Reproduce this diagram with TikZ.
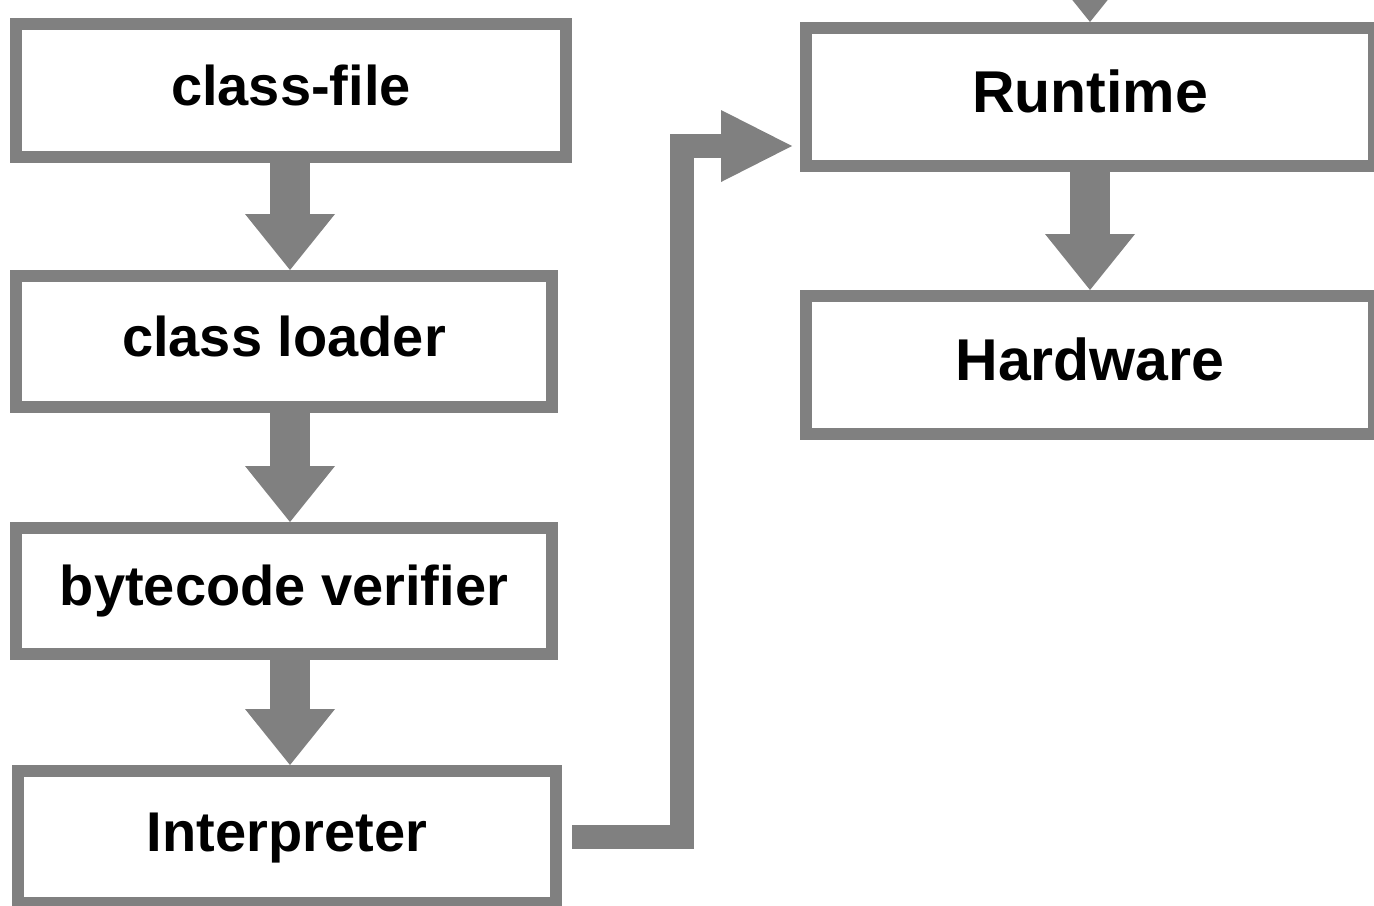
\documentclass[tikz,border=0pt]{standalone}
\usepackage{fontspec}
\setmainfont{Liberation Sans}
\usetikzlibrary{arrows.meta,calc}
\definecolor{boxgray}{RGB}{128,128,128}
\begin{document}
\begin{tikzpicture}[x=0.5pt,y=-0.5pt,
  box/.style={draw=boxgray, line width=6pt, rectangle, fill=white, inner sep=0pt,
    text height=20.4pt, text depth=5.9pt, font=\bfseries\fontsize{28}{34}\selectfont},
  bigbox/.style={box, text height=21.5pt, text depth=6.2pt, font=\bfseries\fontsize{29.5}{35}\selectfont},
  flow/.style={draw=boxgray, line width=20pt,
    -{Triangle[width=45pt,length=28pt,line width=0pt]}},
  elbow/.style={draw=boxgray, line width=12pt, line join=miter, line cap=butt,
    -{Triangle[width=36pt,length=35.5pt,line width=0pt]}}]
\useasboundingbox (0,0) rectangle (1374,905);
\clip (0,0) rectangle (1374,905);
\node[box, minimum width=275pt, minimum height=66.5pt] (A) at (291,90.5) {class-file};
\node[box, minimum width=268pt, minimum height=65.5pt] (B) at (284,341.5) {class loader};
\node[box, minimum width=268pt, minimum height=63pt] (C) at (284,591) {bytecode verifier};
\node[box, minimum width=269pt, minimum height=66pt] (D) at (287,837) {Interpreter};
\node[bigbox, minimum width=284pt, minimum height=69pt] (R) at (1090,97) {Runtime};
\node[bigbox, minimum width=284pt, minimum height=69pt] (H) at (1090,365) {Hardware};
\coordinate (colx) at (290,0);
\coordinate (topin) at (1090,-80);
\coordinate (bend) at (682,146);
\draw[flow] (A.south -| colx) -- (B.north -| colx);
\draw[flow] (B.south -| colx) -- (C.north -| colx);
\draw[flow] (C.south -| colx) -- (D.north -| colx);
\draw[flow] (R.south) -- (H.north);
\draw[flow] (topin) -- (R.north);
\draw[elbow] ($(D.east)+(10,0)$) -| (bend) -- ($(bend -| R.west)+(-8,0)$);
\end{tikzpicture}
\end{document}
